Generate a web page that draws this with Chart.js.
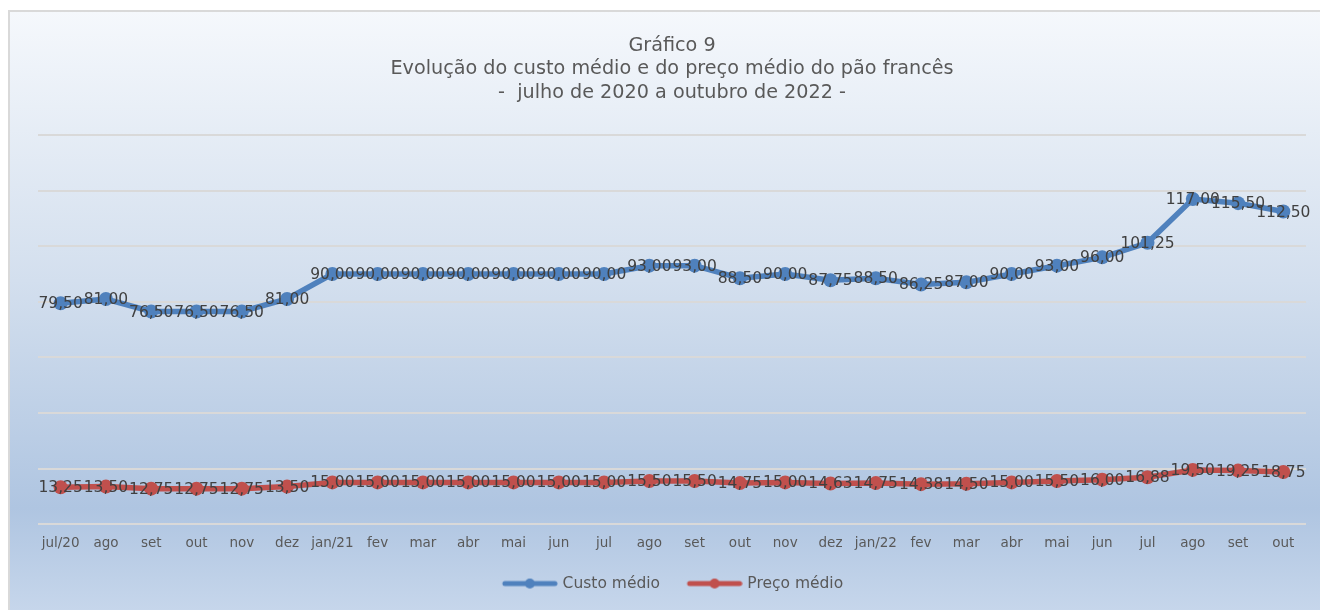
<!DOCTYPE html>
<html>
<head>
<meta charset="utf-8">
<script src="https://cdn.jsdelivr.net/npm/chart.js@4"></script>
<style>
html,body{margin:0;padding:0;background:#fff;}
#wrap{width:1320px;height:610px;}
</style>
</head>
<body>
<div id="wrap"><canvas id="c" width="1320" height="610"></canvas></div>
<script>
const categories = ['jul/20','ago','set','out','nov','dez','jan/21','fev','mar','abr','mai','jun','jul','ago','set','out','nov','dez','jan/22','fev','mar','abr','mai','jun','jul','ago','set','out'];
const custoMedio = [79.50,81.00,76.50,76.50,76.50,81.00,90.00,90.00,90.00,90.00,90.00,90.00,90.00,93.00,93.00,88.50,90.00,87.75,88.50,86.25,87.00,90.00,93.00,96.00,101.25,117.00,115.50,112.50];
const precoMedio = [13.25,13.50,12.75,12.75,12.75,13.50,15.00,15.00,15.00,15.00,15.00,15.00,15.00,15.50,15.50,14.75,15.00,14.63,14.75,14.38,14.50,15.00,15.50,16.00,16.88,19.50,19.25,18.75];
const seriesNames = ['Custo médio','Preço médio'];
const titleLines = ['Gráfico 9','Evolução do custo médio e do preço médio do pão francês','-  julho de 2020 a outubro de 2022 -'];
const yMin = 0, yMax = 140, yStep = 20;

const FONT = "'DejaVu Sans', Verdana, sans-serif";
const BLUE = '#4f81bd', RED = '#c0504d';

function legendIcon(color){
  const cv = document.createElement('canvas');
  cv.width = 72; cv.height = 12;
  const g = cv.getContext('2d');
  g.strokeStyle = color; g.lineWidth = 5; g.lineCap = 'round';
  g.beginPath(); g.moveTo(19,6); g.lineTo(69,6); g.stroke();
  g.fillStyle = color;
  g.beginPath(); g.arc(44,6,5,0,Math.PI*2); g.fill();
  return cv;
}

const bgPlugin = {
  id:'bg',
  afterLayout(chart){
    if (chart.legend) { chart.legend.left -= 6; chart.legend.right -= 6; }
  },
  beforeDraw(chart){
    const ctx = chart.ctx;
    ctx.save();
    ctx.fillStyle = '#ffffff';
    ctx.fillRect(0,0,chart.width,chart.height);
    const g = ctx.createLinearGradient(0,11,0,610);
    g.addColorStop(0,'#f5f8fc');
    g.addColorStop(0.45,'#d3dfee');
    g.addColorStop(0.83,'#afc5e1');
    g.addColorStop(1,'#c6d6eb');
    ctx.fillStyle = g;
    ctx.fillRect(9,11,chart.width-9,chart.height-11);
    ctx.strokeStyle = '#d9d9d9';
    ctx.lineWidth = 2;
    ctx.beginPath();
    ctx.moveTo(9,612); ctx.lineTo(9,11); ctx.lineTo(1322,11);
    ctx.stroke();
    ctx.restore();
  }
};

const labelPlugin = {
  id:'vlabels',
  afterDatasetsDraw(chart){
    const ctx = chart.ctx;
    ctx.save();
    ctx.font = '15.5px ' + FONT;
    ctx.fillStyle = '#404040';
    ctx.textAlign = 'center';
    ctx.textBaseline = 'middle';
    chart.data.datasets.forEach((ds,i)=>{
      const meta = chart.getDatasetMeta(i);
      meta.data.forEach((pt,j)=>{
        const v = ds.data[j];
        ctx.fillText(v.toFixed(2).replace('.',','), pt.x, pt.y+1);
      });
    });
    ctx.restore();
  }
};

new Chart(document.getElementById('c'), {
  type:'line',
  data:{
    labels: categories,
    datasets:[
      {label: seriesNames[0], data: custoMedio, borderColor: BLUE, backgroundColor: BLUE, borderWidth: 5.5, pointRadius: 7, pointHoverRadius: 7, pointBackgroundColor: BLUE, pointBorderWidth: 0, tension: 0, pointStyle: 'circle'},
      {label: seriesNames[1], data: precoMedio, borderColor: RED, backgroundColor: RED, borderWidth: 5.5, pointRadius: 7, pointHoverRadius: 7, pointBackgroundColor: RED, pointBorderWidth: 0, tension: 0, pointStyle: 'circle'}
    ]
  },
  options:{
    responsive:false,
    animation:false,
    events:[],
    layout:{padding:{left:38, right:14, top:0, bottom:8.7}},
    plugins:{
      title:{display:true, text:titleLines, color:'#595959', font:{family:FONT, size:19.2, weight:'normal', lineHeight:1.22}, padding:{top:34, bottom:30.8}},
      legend:{
        display:true, position:'bottom',
        labels:{
          color:'#595959', font:{family:FONT, size:15.5},
          usePointStyle:true, pointStyleWidth:66, padding:13.5,
          generateLabels(chart){
            return chart.data.datasets.map((ds,i)=>({text:ds.label, fillStyle:ds.borderColor, strokeStyle:ds.borderColor, lineWidth:0, pointStyle:legendIcon(ds.borderColor), datasetIndex:i, fontColor:'#595959'}));
          }
        }
      },
      tooltip:{enabled:false}
    },
    scales:{
      x:{
        offset:true,
        grid:{display:false, drawTicks:false, offset:true},
        border:{display:false},
        ticks:{color:'#595959', font:{family:FONT, size:13.5}, padding:11, maxRotation:0, autoSkip:false}
      },
      y:{
        min:yMin, max:yMax,
        ticks:{display:false, stepSize:yStep},
        grid:{color:'#d9d9d9', lineWidth:2, drawTicks:false},
        border:{display:false}
      }
    }
  },
  plugins:[bgPlugin, labelPlugin]
});
</script>
</body>
</html>
